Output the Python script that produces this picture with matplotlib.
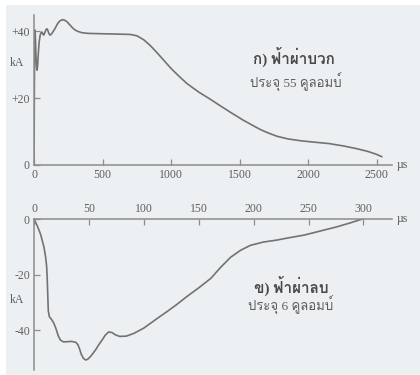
from matplotlib import pyplot as plt
from matplotlib import font_manager
from matplotlib.ft2font import FT2Font
from matplotlib.patches import Rectangle

# positive flash, time in microseconds, current in kA
pos_t = [0, 1, 2, 3, 4, 5, 6, 8, 11, 15, 19, 22, 26, 31, 37, 45, 52, 58, 64, 70, 78, 86,
         93, 99, 105, 111, 117, 125, 135, 148, 160, 172, 185, 200, 212, 225, 240, 260,
         280, 300, 320, 350, 400, 500, 600, 700, 750, 800, 850, 900, 950, 1000, 1050,
         1113, 1200, 1283, 1350, 1430, 1525, 1600, 1650, 1700, 1770, 1850, 1950, 2050,
         2150, 2255, 2350, 2430, 2490, 2535]
pos_i = [0, 8, 16, 24, 31, 36, 39.5, 40.3, 37, 32, 29, 28.3, 29.5, 33, 36.5, 38.8, 39.6,
         39.7, 39.2, 38.8, 39.4, 40.3, 40.7, 40.4, 39.7, 39.1, 38.8, 39.0, 39.6, 40.4, 41.3,
         42.2, 42.9, 43.3, 43.4, 43.2, 42.8, 41.9, 41.0, 40.3, 39.9, 39.5, 39.3, 39.2, 39.1,
         39.0, 38.6, 37.4, 35.6, 33.4, 31.1, 28.8, 26.8, 24.4, 21.8, 19.7, 17.9, 15.8, 13.4,
         11.7, 10.6, 9.7, 8.6, 7.8, 7.2, 6.8, 6.4, 5.7, 4.9, 4.1, 3.3, 2.5]

# negative flash
neg_t = [0, 3, 6, 9, 10.5, 11.5, 12, 12.5, 13, 14, 16, 18, 20, 22, 24, 27, 30, 34, 38,
         40, 41.5, 43, 45, 47, 49, 52, 56, 59, 62, 65, 68, 71, 74, 78, 84, 91, 100, 106,
         113, 121, 130, 139, 150, 161, 170, 179, 188, 197, 209, 221, 233, 246, 260, 276,
         288, 299]
neg_i = [0, -2.5, -5.5, -10, -13.5, -17, -21, -27, -33, -35.2, -36.2, -37.5, -39.5, -42,
         -43.6, -44.3, -44.2, -44.1, -44.4, -45.3, -46.8, -48.7, -50.2, -50.8, -50.5, -49.3,
         -47.2, -45.3, -43.6, -41.8, -40.7, -40.9, -41.7, -42.3, -42.2, -41.2, -39.3, -37.6,
         -35.6, -33.4, -30.8, -28, -24.8, -21.4, -17.4, -13.8, -11.3, -9.5, -8.3, -7.6,
         -6.7, -5.8, -4.4, -2.8, -1.4, 0]

pos_xticks = [0, 500, 1000, 1500, 2000, 2500]
pos_yticks = [0, 20, 40]
pos_ylabels = ['0', '+20', '+40']
neg_xticks = [0, 50, 100, 150, 200, 250, 300]
neg_yticks = [0, -20, -40]
neg_ylabels = ['0', '-20', '-40']


def find_thai_font():
    # look for any installed font that has Thai glyphs
    for f in font_manager.fontManager.ttflist:
        try:
            if ord('ฟ') in FT2Font(f.fname).get_charmap():
                return f.name
        except Exception:
            pass
    return 'DejaVu Sans'


thai_font = find_thai_font()
plt.rcParams['font.family'] = ['Liberation Serif', thai_font, 'DejaVu Sans']

bg = '#edf0f2'
line_c = '#727272'
spine_c = '#8c8c8c'
text_c = '#5e5e5e'
title_c = '#4a4a4a'

fig = plt.figure(figsize=(4.2, 3.75), dpi=100, facecolor=bg)
fig.patches.append(Rectangle((0, 0), 6 / 420, 1, transform=fig.transFigure,
                             facecolor='white', edgecolor='none'))
fig.patches.append(Rectangle((0, 1 - 5 / 375), 1, 5 / 375, transform=fig.transFigure,
                             facecolor='white', edgecolor='none'))


def style_axes(ax):
    ax.set_facecolor('none')
    for s in ax.spines.values():
        s.set_color(spine_c)
        s.set_linewidth(1.1)
    ax.tick_params(direction='in', length=4, width=0.9, color=spine_c,
                   labelcolor=text_c, labelsize=8.5, pad=3)


# top: positive flash
ax1 = fig.add_axes([34 / 420, 1 - 165 / 375, 358 / 420, 150 / 375])
style_axes(ax1)
ax1.plot(pos_t, pos_i, color=line_c, lw=1.2)
ax1.set_xlim(0, 2610)
ax1.set_ylim(0, 44.8)
ax1.spines['top'].set_visible(False)
ax1.spines['right'].set_visible(False)
ax1.set_xticks(pos_xticks)
ax1.set_yticks(pos_yticks, pos_ylabels)
ax1.text(1.03, 0, 'µs', transform=ax1.transAxes, ha='center', va='center',
         fontsize=8.5, color=text_c)
ax1.text(0.726, 0.72, 'ก) ฟ้าผ่าบวก', transform=ax1.transAxes, ha='center', va='center',
         fontsize=11, fontweight='bold', color=title_c)
ax1.text(0.73, 0.55, 'ประจุ 55 คูลอมบ์', transform=ax1.transAxes, ha='center', va='center',
         fontsize=9.5, color=text_c)

# bottom: negative flash
ax2 = fig.add_axes([34 / 420, 1 - 370 / 375, 358 / 420, 151 / 375])
style_axes(ax2)
ax2.plot(neg_t, neg_i, color=line_c, lw=1.2)
ax2.set_xlim(0, 326)
ax2.set_ylim(-54.4, 0)
ax2.spines['bottom'].set_visible(False)
ax2.spines['right'].set_visible(False)
ax2.xaxis.tick_top()
ax2.set_xticks(neg_xticks)
ax2.set_yticks(neg_yticks, neg_ylabels)
ax2.text(1.03, 1, 'µs', transform=ax2.transAxes, ha='center', va='center',
         fontsize=8.5, color=text_c)
ax2.text(0.718, 0.56, 'ข) ฟ้าผ่าลบ', transform=ax2.transAxes, ha='center', va='center',
         fontsize=11, fontweight='bold', color=title_c)
ax2.text(0.718, 0.43, 'ประจุ 6 คูลอมบ์', transform=ax2.transAxes, ha='center', va='center',
         fontsize=9.5, color=text_c)

fig.text(17 / 420, 1 - 63 / 375, 'kA', ha='center', va='center', fontsize=8.5, color=text_c)
fig.text(17 / 420, 1 - 300 / 375, 'kA', ha='center', va='center', fontsize=8.5, color=text_c)

fig.savefig('out.png', dpi=100, facecolor=bg)
